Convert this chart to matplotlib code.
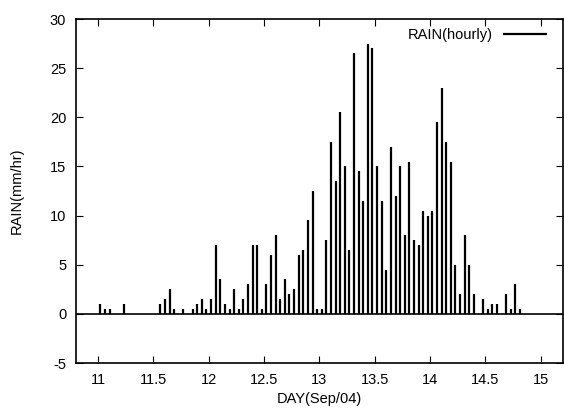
import numpy as np
import matplotlib
matplotlib.use("Agg")
import matplotlib.pyplot as plt

plt.rcParams['font.family'] = ['Liberation Sans', 'DejaVu Sans']
plt.rcParams['axes.unicode_minus'] = False

# hourly rain (mm/hr), one value per hour starting at day 11 (Sep/04)
start_day = 11.0
rain = [
    1.0, 0.5, 0.5, 0, 0, 1.0, 0, 0, 0, 0,
    0, 0, 0, 1.0, 1.5, 2.5, 0.5, 0, 0.5, 0,
    0.5, 1.0, 1.5, 0.5, 1.5, 7.0, 3.5, 1.0, 0.5, 2.5,
    0.5, 1.5, 3.0, 7.0, 7.0, 0.5, 3.0, 6.0, 8.0, 1.5,
    3.5, 2.0, 2.5, 6.0, 6.5, 9.5, 12.5, 0.5, 0.5, 7.5,
    17.5, 13.5, 20.5, 15.0, 6.5, 26.5, 14.5, 11.5, 27.5, 27.0,
    15.0, 11.5, 4.5, 17.0, 12.0, 15.0, 8.0, 15.5, 7.5, 7.0,
    10.5, 10.0, 10.5, 19.5, 23.0, 17.5, 15.5, 5.0, 2.0, 8.0,
    5.0, 2.0, 0, 1.5, 0.5, 1.0, 1.0, 0, 2.0, 0.5,
    3.0, 0.5,
]
days = start_day + (np.arange(len(rain)) + 0.5) / 24.0

xticks = [11, 11.5, 12, 12.5, 13, 13.5, 14, 14.5, 15]
xticklabels = ['11', '11.5', '12', '12.5', '13', '13.5', '14', '14.5', '15']
yticks = [-5, 0, 5, 10, 15, 20, 25, 30]

fig = plt.figure(figsize=(5.64, 4.16), dpi=100)
ax = fig.add_axes([0.1348, 0.1274, 0.8632, 0.8269])

ax.vlines(days, 0, rain, colors='black', linewidth=1.6, capstyle='butt',
          label='RAIN(hourly)')
ax.axhline(0, color='black', linewidth=1.2)

ax.set_xlim(10.8, 15.2)
ax.set_ylim(-5, 30)
ax.set_xticks(xticks)
ax.set_xticklabels(xticklabels)
ax.set_yticks(yticks)
ax.tick_params(direction='in', length=5, width=0.8, top=True, right=True,
               labelsize=10.5, pad=7, colors='black')
for s in ax.spines.values():
    s.set_linewidth(1.2)

ax.set_xlabel('DAY(Sep/04)', fontsize=10.5, labelpad=4)
ax.set_ylabel('RAIN(mm/hr)', fontsize=10.5, labelpad=19)

leg = ax.legend(loc='upper right', frameon=False, fontsize=10.5,
                handlelength=3.0, markerfirst=False, borderaxespad=0.2,
                handletextpad=0.7, bbox_to_anchor=(0.985, 1.0))
for h in leg.get_lines():
    h.set_linewidth(1.6)

fig.savefig('out.png', dpi=100)
